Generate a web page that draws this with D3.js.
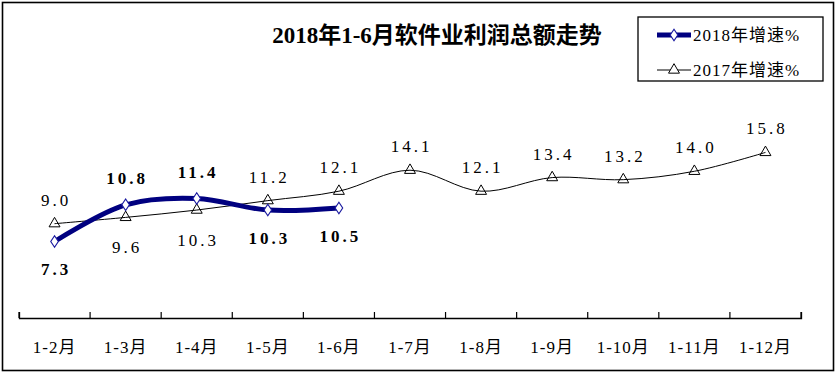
<!DOCTYPE html>
<html><head><meta charset="utf-8">
<script src="https://cdn.jsdelivr.net/npm/d3@7/dist/d3.min.js"></script>
<style>
html,body{margin:0;padding:0;background:#fff;}
svg{display:block;}
text{font-family:"Liberation Serif","Noto Sans CJK SC",serif;}
</style></head>
<body><svg id="c" width="839" height="376"></svg>
<script>
const title = "2018年1-6月软件业利润总额走势";
const categories = ["1-2月","1-3月","1-4月","1-5月","1-6月","1-7月","1-8月","1-9月","1-10月","1-11月","1-12月"];
const series2018 = [7.3, 10.8, 11.4, 10.3, 10.5];
const series2017 = [9.0, 9.6, 10.3, 11.2, 12.1, 14.1, 12.1, 13.4, 13.2, 14.0, 15.8];
const labelSide2018 = ["below","above","above","below","below"];
const labelSide2017 = ["above","below","below","above","above","above","above","above","above","above","above"];
const legendNames = ["2018年增速%","2017年增速%"];

const svg = d3.select("#c");
svg.append("rect").attr("x",2.5).attr("y",2.5).attr("width",831).attr("height",368)
  .attr("fill","#fff").attr("stroke","#000").attr("stroke-width",1.6);

const x = d3.scaleBand().domain(categories).range([19,801]);
const y = d3.scaleLinear().domain([0,20]).range([318,108.4]);
const cx = d => x(d) + x.bandwidth()/2;

// x axis
const axis = d3.axisBottom(x).tickSizeInner(-6).tickSizeOuter(-6).tickFormat(d=>d);
const gx = svg.append("g").attr("transform","translate(0,318)").call(axis);
gx.select(".domain").attr("stroke","#000").attr("stroke-width",1.3);
gx.selectAll(".tick line").remove();
const bounds = categories.map(c=>x(c)).concat([x(categories[categories.length-1])+x.bandwidth()]);
gx.selectAll("line.bt").data(bounds).join("line").attr("class","bt")
  .attr("x1",d=>d).attr("x2",d=>d).attr("y1",0).attr("y2",-6).attr("stroke","#000").attr("stroke-width",1.2);
gx.selectAll(".tick text").attr("y",0).attr("dy",null).attr("transform","translate(0,35)")
  .attr("font-size",17).attr("letter-spacing",1).attr("fill","#000")
  .attr("font-family",'"Liberation Serif","Noto Sans CJK SC",serif');

// lines
const curve = d3.curveCatmullRom.alpha(0.5);
const line = d3.line().x((d,i)=>cx(categories[i])).y(d=>y(d)).curve(curve);

svg.append("path").datum(series2017).attr("d",line).attr("fill","none").attr("stroke","#000").attr("stroke-width",1);
svg.append("path").datum(series2018).attr("d",line).attr("fill","none").attr("stroke","#000080").attr("stroke-width",5);

const tri = d3.symbol().type(d3.symbolTriangle).size(52);
const dia = d3.symbol().type(d3.symbolDiamond).size(38);

svg.selectAll("path.t17").data(series2017).join("path").attr("class","t17")
  .attr("d",tri).attr("transform",(d,i)=>`translate(${cx(categories[i])},${y(d)})`)
  .attr("fill","none").attr("stroke","#000").attr("stroke-width",1);
svg.selectAll("path.d18").data(series2018).join("path").attr("class","d18")
  .attr("d",dia).attr("transform",(d,i)=>`translate(${cx(categories[i])},${y(d)}) scale(1.15,1)`)
  .attr("fill","#fff").attr("stroke","#1a1aa0").attr("stroke-width",1);

// labels
svg.selectAll("text.l17").data(series2017).join("text").attr("class","l17")
  .attr("x",(d,i)=>cx(categories[i])+1.5).attr("y",(d,i)=>y(d)+(labelSide2017[i]==="above"?-18:36))
  .attr("text-anchor","middle").attr("font-size",17).attr("letter-spacing",3).attr("fill","#000")
  .text(d=>d.toFixed(1));
svg.selectAll("text.l18").data(series2018).join("text").attr("class","l18")
  .attr("x",(d,i)=>cx(categories[i])+1.5).attr("y",(d,i)=>y(d)+(labelSide2018[i]==="above"?-21:34))
  .attr("text-anchor","middle").attr("font-size",17).attr("font-weight","bold").attr("letter-spacing",3).attr("fill","#000")
  .text(d=>d.toFixed(1));

// title
svg.append("text").attr("x",437).attr("y",43).attr("text-anchor","middle")
  .attr("font-size",23).attr("font-weight","bold").attr("fill","#000").text(title);

// legend
const lg = svg.append("g");
lg.append("rect").attr("x",638).attr("y",17).attr("width",185).attr("height",64)
  .attr("fill","#fff").attr("stroke","#000").attr("stroke-width",1.3);
lg.append("line").attr("x1",657).attr("x2",691).attr("y1",35).attr("y2",35).attr("stroke","#000080").attr("stroke-width",5);
lg.append("path").attr("d",dia).attr("transform","translate(674,35) scale(1.15,1)").attr("fill","#fff").attr("stroke","#1a1aa0");
lg.append("line").attr("x1",657).attr("x2",691).attr("y1",70).attr("y2",70).attr("stroke","#000").attr("stroke-width",1);
lg.append("path").attr("d",tri).attr("transform","translate(674,70)").attr("fill","#fff").attr("stroke","#000");
lg.selectAll("text.lt").data(legendNames).join("text").attr("class","lt")
  .attr("x",693).attr("y",(d,i)=>i?76:41).attr("font-size",17).attr("letter-spacing",1).attr("fill","#000").text(d=>d);
</script></body></html>
